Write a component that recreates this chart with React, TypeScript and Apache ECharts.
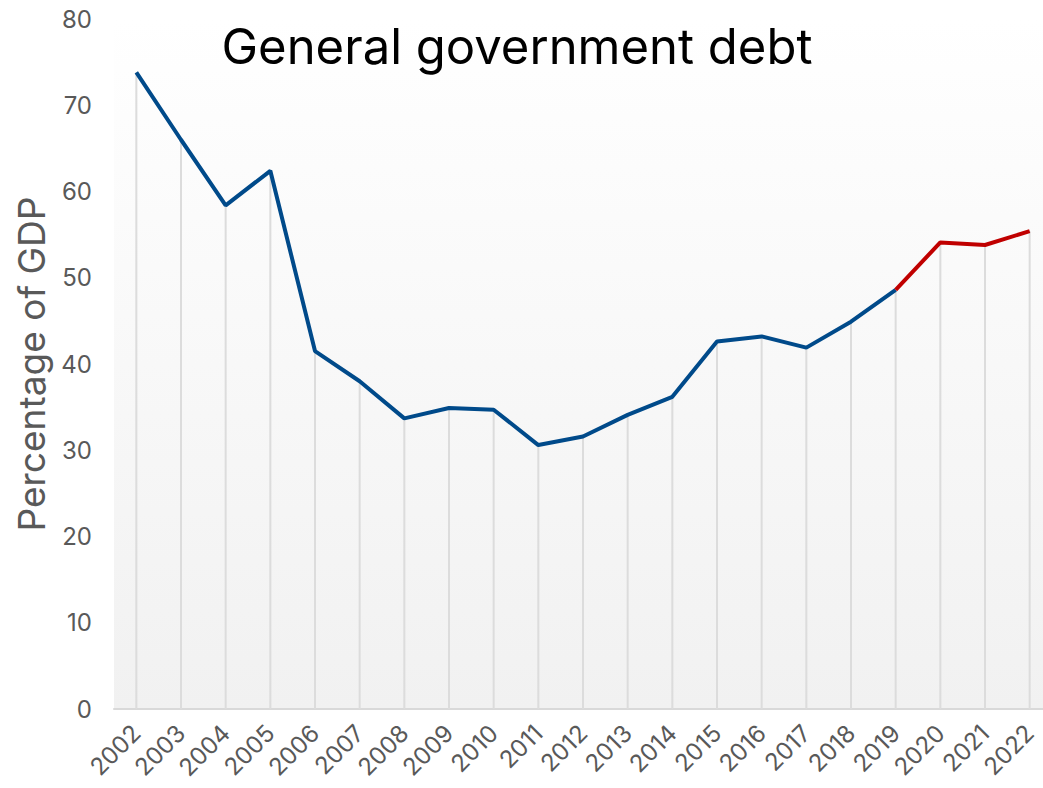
import React, { useEffect, useRef } from "react";
import * as echarts from "echarts";

const years = ["2002","2003","2004","2005","2006","2007","2008","2009","2010","2011","2012","2013","2014","2015","2016","2017","2018","2019","2020","2021","2022"];
const debt = [73.8, 66.0, 58.4, 62.4, 41.5, 38.0, 33.7, 34.9, 34.7, 30.6, 31.6, 34.1, 36.2, 42.6, 43.2, 41.9, 44.9, 48.6, 54.1, 53.8, 55.4];
const splitYear = "2019";
const yTicks = { min: 0, max: 80, interval: 10 };

export default function App() {
  const ref = useRef<HTMLDivElement>(null);
  useEffect(() => {
    document.body.style.margin = "0";
    const chart = echarts.init(ref.current!, null, { renderer: "svg" });
    const si = years.indexOf(splitYear);
    const blue = debt.map((v, i) => (i <= si ? v : null));
    const red = debt.map((v, i) => (i >= si ? v : null));
    const font = "Inter, 'Noto Sans', sans-serif";
    chart.setOption({
      animation: false,
      title: {
        text: "General government debt",
        left: 512,
        textAlign: "center",
        top: 17,
        textStyle: { fontFamily: font, fontSize: 49, fontWeight: "normal", color: "#000" },
      },
      grid: {
        left: 114,
        right: 0,
        top: 19,
        bottom: 79,
        show: true,
        borderWidth: 0,
        backgroundColor: new echarts.graphic.LinearGradient(0, 0, 0, 1, [
          { offset: 0, color: "#ffffff" },
          { offset: 1, color: "#f1f1f1" },
        ]),
      },
      xAxis: {
        type: "category",
        data: years,
        boundaryGap: true,
        axisLine: { show: true, lineStyle: { color: "#d9d9d9", width: 2 } },
        axisTick: { show: false },
        axisLabel: {
          rotate: 45,
          interval: 0,
          margin: 20,
          color: "#595959",
          fontSize: 24,
          fontFamily: font,
        },
        splitLine: { show: false },
      },
      yAxis: {
        type: "value",
        min: yTicks.min,
        max: yTicks.max,
        interval: yTicks.interval,
        name: "Percentage of GDP",
        nameLocation: "middle",
        nameGap: 62,
        nameTextStyle: { color: "#595959", fontSize: 37, fontFamily: font },
        axisLine: { show: false },
        axisTick: { show: false },
        splitLine: { show: false },
        axisLabel: { color: "#595959", fontSize: 24, fontFamily: font, margin: 22 },
      },
      series: [
        {
          type: "bar",
          data: debt,
          barWidth: 2,
          itemStyle: { color: "#dcdcdc" },
          silent: true,
          z: 1,
        },
        {
          type: "line",
          data: blue,
          showSymbol: false,
          lineStyle: { color: "#004a8a", width: 4 },
          z: 3,
        },
        {
          type: "line",
          data: red,
          showSymbol: false,
          lineStyle: { color: "#c00000", width: 4 },
          z: 3,
        },
      ],
    });
    return () => chart.dispose();
  }, []);
  return (
    <div style={{ width: 1043, height: 788, overflow: "hidden" }}>
      <div ref={ref} style={{ width: 1052, height: 788 }} />
    </div>
  );
}
